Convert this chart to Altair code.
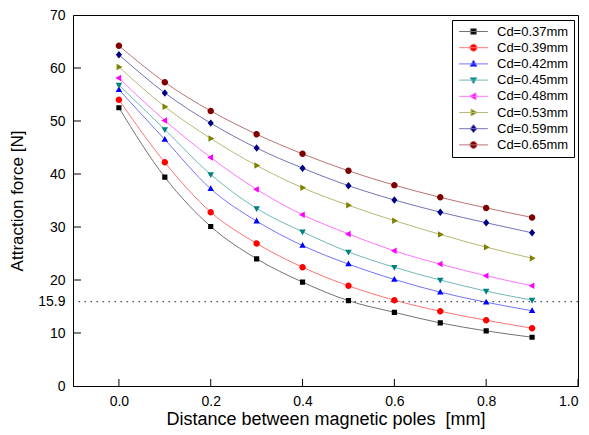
import altair as alt
import pandas as pd

# ---------------- data ----------------
distance = [0.0, 0.1, 0.2, 0.3, 0.4, 0.5, 0.6, 0.7, 0.8, 0.9]
series_names = ["Cd=0.37mm", "Cd=0.39mm", "Cd=0.42mm", "Cd=0.45mm",
                "Cd=0.48mm", "Cd=0.53mm", "Cd=0.59mm", "Cd=0.65mm"]
force_037 = [52.5, 39.4, 30.1, 24.0, 19.6, 16.1, 13.9, 11.9, 10.4, 9.2]
force_039 = [54.0, 42.2, 32.8, 26.9, 22.4, 18.9, 16.2, 14.1, 12.4, 10.9]
force_042 = [55.9, 46.5, 37.2, 31.1, 26.5, 23.0, 20.1, 17.7, 15.8, 14.2]
force_045 = [56.8, 48.4, 39.9, 33.5, 29.1, 25.3, 22.4, 20.0, 17.9, 16.2]
force_048 = [58.1, 50.1, 43.1, 37.1, 32.3, 28.7, 25.5, 23.0, 20.8, 18.9]
force_053 = [60.2, 52.7, 46.7, 41.6, 37.4, 34.1, 31.2, 28.6, 26.2, 24.1]
force_059 = [62.5, 55.3, 49.6, 44.9, 41.1, 37.8, 35.1, 32.8, 30.8, 28.9]
force_065 = [64.2, 57.3, 51.9, 47.5, 43.8, 40.6, 37.9, 35.6, 33.6, 31.8]
all_forces = [force_037, force_039, force_042, force_045,
              force_048, force_053, force_059, force_065]

threshold = [15.9]
x_tick_values = [0.0, 0.2, 0.4, 0.6, 0.8, 1.0]
y_tick_values = [10, 20, 30, 40, 50, 60]
y_label_values = [0, 10, 20, 30, 40, 50, 60, 70, 15.9]

# ---------------- style ----------------
FONT = "Liberation Sans"
marker_colors = ["#000000", "#FF0000", "#0000FF", "#008080",
                 "#FF00FF", "#808000", "#000080", "#800000"]
line_colors = ["#737373", "#FF7373", "#7373FF", "#73B9B9",
               "#FF73FF", "#B9B973", "#7373B9", "#B97373"]
circle = "M-1,0A1,1,0,1,1,1,0A1,1,0,1,1,-1,0Z"
marker_paths = [
    "M-0.8,-0.8H0.8V0.8H-0.8Z",          # square
    circle,                               # circle
    "M0,-1.1L1,0.7H-1Z",                  # triangle up
    "M0,1.1L1,-0.7H-1Z",                  # triangle down
    "M-1.1,0L0.7,-1V1Z",                  # triangle left
    "M1.1,0L-0.7,-1V1Z",                  # triangle right
    "M0,-1.15L0.95,0L0,1.15L-0.95,0Z",    # diamond
    circle,                               # circle
]
legend_line = "M-4.1,0H4.1"
shape_range = [legend_line + p for p in marker_paths]

rows = []
for name, vals in zip(series_names, all_forces):
    for d, f in zip(distance, vals):
        rows.append({"distance": d, "force": f, "series": name})
df = pd.DataFrame(rows)

xscale = alt.Scale(domain=[-0.1, 1.0], nice=False, zero=False)
yscale = alt.Scale(domain=[0, 70], nice=False, zero=False)
color_scale = alt.Scale(domain=series_names, range=marker_colors)
stroke_scale = alt.Scale(domain=series_names, range=line_colors)
shape_scale = alt.Scale(domain=series_names, range=shape_range)

x_axis = alt.Axis(values=x_tick_values, format=".1f",
                  title="Distance between magnetic poles\u00a0 [mm]",
                  ticks=False, tickSize=0, grid=False, labelPadding=8, titlePadding=2,
                  labelFont=FONT, labelFontSize=14, titleFont=FONT, titleFontSize=18,
                  titleFontWeight="normal", labelColor="black", titleColor="black",
                  domainColor="black", labelOverlap=False)
y_axis = alt.Axis(values=y_label_values, format=".4~r", title="Attraction force [N]",
                  ticks=False, tickSize=0, grid=False, labelPadding=8, titlePadding=11,
                  labelFont=FONT, labelFontSize=14, titleFont=FONT, titleFontSize=17,
                  titleFontWeight="normal", labelColor="black", titleColor="black",
                  domainColor="black", labelOverlap=False)

leg = alt.Legend(title=None, orient="none", legendX=379, legendY=5,
                 strokeColor="black", fillColor="white", padding=5,
                 labelFont=FONT, labelFontSize=13, labelColor="black",
                 labelOffset=17, symbolOffset=10, symbolSize=49,
                 symbolStrokeWidth=1, rowPadding=2.2)

X = alt.X("distance:Q", scale=xscale, axis=x_axis)
Y = alt.Y("force:Q", scale=yscale, axis=y_axis)

base = alt.Chart(df)

legend_layer = base.transform_filter("false").mark_point(
    filled=True, size=49, strokeWidth=1, opacity=1).encode(
    x=X, y=Y,
    color=alt.Color("series:N", scale=color_scale, legend=leg),
    shape=alt.Shape("series:N", scale=shape_scale, legend=leg),
    stroke=alt.Stroke("series:N", scale=stroke_scale, legend=leg),
)

lines = base.mark_line(strokeWidth=1, interpolate="monotone").encode(
    x=X, y=Y,
    stroke=alt.Stroke("series:N", scale=stroke_scale, legend=leg),
)

points = base.mark_point(filled=True, size=42, opacity=1).encode(
    x=X, y=Y,
    color=alt.Color("series:N", scale=color_scale, legend=leg),
    shape=alt.Shape("series:N", scale=shape_scale, legend=leg),
)

thresh = alt.Chart(pd.DataFrame({"force": threshold})).mark_rule(
    strokeDash=[1.5, 4.5], color="#222222", strokeWidth=1).encode(y=Y)

xticks = alt.Chart(pd.DataFrame({"distance": x_tick_values})).mark_rule(
    color="black", strokeWidth=1).encode(
    x=X, y=alt.value(371), y2=alt.value(364))

yticks = alt.Chart(pd.DataFrame({"force": y_tick_values})).mark_rule(
    color="black", strokeWidth=1).encode(
    y=Y, x=alt.value(0), x2=alt.value(8))

chart = alt.layer(legend_layer, lines, thresh, xticks, yticks, points).properties(
    width=505, height=371,
    autosize=alt.AutoSizeParams(type="none"),
    padding={"left": 65, "top": 7, "right": 3, "bottom": 48},
    background="white",
).configure_view(stroke="black", strokeWidth=1)

chart.save("out.html", embed_options={"renderer": "svg", "actions": False})
